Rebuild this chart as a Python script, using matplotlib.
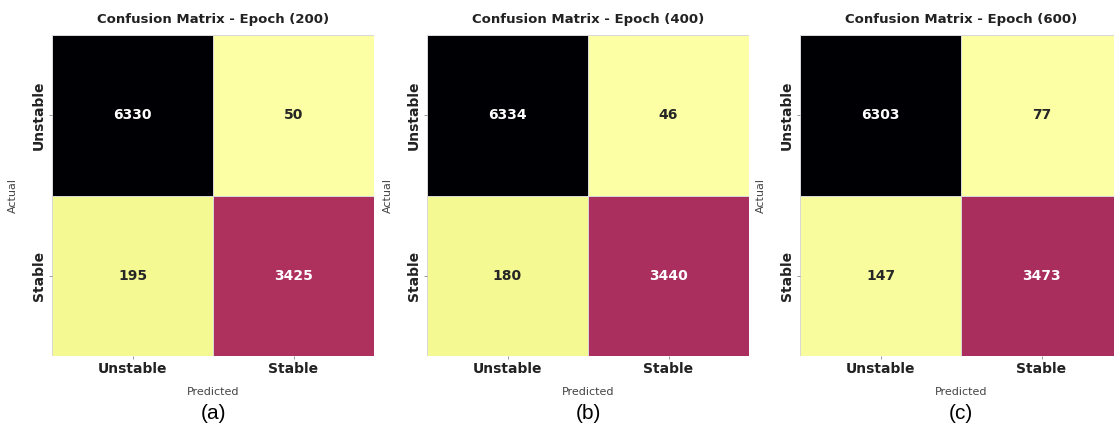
import numpy as np
import matplotlib
matplotlib.use("Agg")
import matplotlib.pyplot as plt
import seaborn as sns

labels = ["Unstable", "Stable"]
epochs = [200, 400, 600]
panel_tags = ["(a)", "(b)", "(c)"]
cm_200 = [[6330, 50], [195, 3425]]
cm_400 = [[6334, 46], [180, 3440]]
cm_600 = [[6303, 77], [147, 3473]]
matrices = [cm_200, cm_400, cm_600]

fig = plt.figure(figsize=(11.14, 4.33), dpi=100)
lefts = [52, 427, 800]          # heatmap left edges in px
W, H = 1114, 433

for left, ep, tag, cm in zip(lefts, epochs, panel_tags, matrices):
    ax = fig.add_axes([left / W, 1 - 356 / H, 322 / W, 321 / H])
    sns.heatmap(np.array(cm), annot=True, fmt="d", cmap="inferno_r", cbar=False,
                linewidths=0.6, linecolor="#d8d8d8", ax=ax,
                annot_kws={"fontsize": 10, "fontweight": "bold"},
                xticklabels=labels, yticklabels=labels)
    ax.set_title(f"Confusion Matrix - Epoch ({ep})", fontsize=9.5,
                 fontweight="bold", color="#222222", pad=9)
    ax.set_xticklabels(labels, fontsize=10, fontweight="bold", color="#222222")
    ax.set_yticklabels(labels, fontsize=10, fontweight="bold", color="#222222",
                       rotation=90, va="center")
    ax.tick_params(length=2.5, width=0.6, color="#888888", pad=2)
    ax.set_xlabel("Predicted", fontsize=8, color="#444444", labelpad=8)
    ax.set_ylabel("Actual", fontsize=8, color="#444444", labelpad=10)
    ax.text(0.5, -0.178, tag, transform=ax.transAxes, ha="center", va="center",
            fontsize=15, family="Liberation Sans")

fig.savefig("out.png", dpi=100)
